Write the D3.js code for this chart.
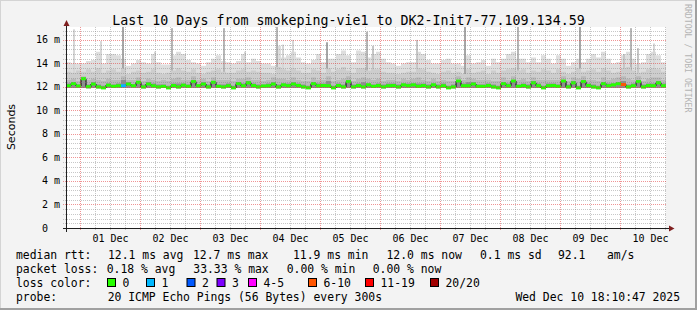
<!doctype html>
<meta charset="utf-8">
<body style="margin:0">
<script src="https://d3js.org/d3.v7.min.js"></script>
<script>

// time window of the graph (UTC) and bucket size of the data below
var startTime = Date.UTC(2025, 10, 30, 18, 10, 47),
    endTime = Date.UTC(2025, 11, 10, 18, 10, 47),
    stepHours = 2;

// median rtt per 2h bucket (ms)
var medianMs = [12.10,12.28,12.08,12.70,12.02,12.25,12.00,11.92,12.15,12.05,
  12.10,12.10,12.25,12.10,12.40,12.00,12.25,12.10,12.00,12.05,
  11.92,12.12,12.00,12.15,12.05,12.45,12.10,12.25,12.00,12.40,
  12.05,12.00,12.10,11.92,12.28,12.10,12.35,12.12,12.00,12.08,
  12.10,12.25,12.00,12.18,12.10,12.25,12.12,12.00,11.92,12.28,
  12.10,12.12,12.10,11.92,12.12,12.00,12.45,12.00,12.12,12.00,
  12.18,12.05,12.12,12.00,12.10,12.12,12.00,12.18,12.10,12.18,
  12.05,12.12,12.00,12.18,12.00,12.10,11.92,12.00,12.50,12.10,
  12.10,12.25,12.05,12.05,12.12,12.00,11.92,12.28,12.10,12.50,
  12.05,12.12,12.00,12.35,12.10,11.92,12.10,12.12,12.05,12.50,
  12.00,12.35,11.92,12.45,12.12,12.00,11.92,12.28,12.10,12.18,
  12.28,12.20,12.00,12.10,12.45,12.00,12.12,12.10,12.35,12.10];

// smoke: lowest ping, 60/75/90 percentile and highest ping (ms)
var minMs = [11.90,11.92,11.90,11.92,11.88,11.92,11.88,11.85,11.92,11.90,
  11.92,11.90,11.92,11.90,11.92,11.88,11.92,11.90,11.88,11.90,
  11.85,11.92,11.88,11.92,11.90,11.92,11.90,11.92,11.88,11.92,
  11.90,11.88,11.92,11.85,11.92,11.90,11.92,11.92,11.88,11.90,
  11.92,11.92,11.88,11.92,11.90,11.92,11.92,11.88,11.85,11.92,
  11.90,11.92,11.92,11.85,11.92,11.88,11.92,11.88,11.92,11.88,
  11.92,11.90,11.92,11.88,11.90,11.92,11.88,11.92,11.90,11.92,
  11.90,11.92,11.88,11.92,11.88,11.90,11.85,11.88,11.92,11.90,
  11.92,11.92,11.90,11.90,11.92,11.88,11.85,11.92,11.90,11.92,
  11.90,11.92,11.88,11.92,11.90,11.85,11.90,11.92,11.90,11.92,
  11.88,11.92,11.85,11.92,11.92,11.88,11.85,11.92,11.90,11.92,
  11.92,11.90,11.88,11.90,11.92,11.88,11.92,11.90,11.92,11.90];

var p60Ms = [12.3,12.4,12.2,12.8,12.2,12.4,12.2,12.1,12.3,12.2,
  12.3,12.6,12.4,12.2,12.5,12.2,12.4,12.3,12.2,12.2,
  12.1,12.3,12.3,12.3,12.2,12.6,12.2,12.4,12.2,12.5,
  12.2,12.2,12.3,12.1,12.4,12.3,12.5,12.3,12.2,12.2,
  12.3,12.4,12.2,12.3,12.3,12.4,12.3,12.2,12.1,12.4,
  12.3,12.3,12.5,12.1,12.3,12.2,12.6,12.2,12.3,12.4,
  12.3,12.2,12.3,12.2,12.3,12.3,12.2,12.3,12.3,12.3,
  12.3,12.3,12.2,12.3,12.2,12.3,12.1,12.2,12.6,12.3,
  12.4,12.4,12.2,12.2,12.3,12.2,12.1,12.4,12.3,12.6,
  12.2,12.3,12.2,12.5,12.3,12.1,12.3,12.3,12.2,12.6,
  12.2,12.5,12.1,12.6,12.3,12.2,12.1,12.4,12.3,12.3,
  12.4,12.5,12.2,12.3,12.6,12.2,12.3,12.3,12.5,12.3];

var p75Ms = [12.6,12.7,12.5,12.9,12.6,12.7,12.6,12.5,12.7,12.6,
  12.6,12.9,12.6,12.6,12.8,12.5,12.7,12.6,12.5,12.6,
  12.5,12.7,12.8,12.6,12.6,12.9,12.6,12.7,12.5,12.8,
  12.6,12.6,12.6,12.5,12.7,12.7,12.8,12.6,12.6,12.5,
  12.6,12.8,12.7,12.7,12.6,12.8,12.6,12.5,12.5,12.8,
  12.6,12.6,12.9,12.5,12.6,12.7,12.9,12.5,12.7,12.8,
  12.7,12.6,12.7,12.5,12.6,12.6,12.5,12.7,12.6,12.7,
  12.8,12.6,12.5,12.7,12.5,12.6,12.5,12.5,12.9,12.6,
  12.8,12.7,12.6,12.6,12.6,12.5,12.5,12.8,12.6,12.9,
  12.6,12.7,12.5,12.8,12.6,12.6,12.6,12.6,12.6,12.9,
  12.5,12.8,12.7,12.9,12.6,12.6,12.5,12.8,12.6,12.7,
  12.8,12.9,12.7,12.6,12.9,12.5,12.7,12.8,12.8,12.6];

var p90Ms = [13.3,13.2,13.4,13.3,13.5,13.3,13.6,13.2,13.4,13.5,
  13.3,13.6,13.1,13.3,13.4,13.2,13.3,13.5,13.2,13.1,
  13.2,13.4,13.6,13.4,13.3,13.5,13.2,13.1,13.3,13.4,
  13.5,13.3,13.2,13.2,13.4,13.5,13.3,13.4,13.3,13.2,
  13.2,13.1,13.7,13.5,13.4,13.6,13.4,13.2,13.2,13.5,
  13.4,13.2,13.6,13.3,13.5,13.7,13.4,13.2,13.6,13.6,
  13.4,13.5,13.5,13.3,13.2,13.2,13.1,13.2,13.3,13.3,
  13.6,13.5,13.3,13.2,13.1,13.3,13.4,13.2,13.3,13.1,
  13.5,13.2,13.3,13.4,13.1,13.4,13.2,13.4,13.5,13.6,
  13.4,13.5,13.2,13.4,13.3,13.5,13.4,13.2,13.5,13.3,
  13.1,13.3,13.6,13.3,13.4,13.5,13.3,13.6,13.4,13.2,
  13.3,13.6,13.7,13.4,13.2,13.3,13.5,13.6,13.5,13.3];

var maxMs = [14.1,14.0,14.0,14.0,14.2,14.3,15.0,14.0,14.8,14.8,
  14.7,14.4,13.8,14.0,14.3,14.1,14.0,14.8,14.1,13.9,
  13.9,14.7,15.0,14.8,14.3,14.1,14.0,13.8,14.1,14.4,
  14.7,14.2,14.1,14.0,14.2,14.8,14.1,14.4,14.2,14.0,
  14.0,13.8,15.5,14.5,14.7,15.0,14.5,14.1,14.0,14.3,
  14.8,14.1,14.4,14.4,14.8,15.1,14.7,14.1,15.1,15.0,
  14.5,14.8,15.0,14.4,14.1,14.0,13.8,14.0,14.1,14.1,
  15.0,14.8,14.3,14.0,14.0,14.3,14.4,14.0,14.0,13.8,
  14.7,14.0,14.1,14.3,13.8,14.4,14.1,14.4,14.8,15.0,
  14.4,14.4,14.1,14.5,14.1,14.7,14.4,14.0,14.7,14.4,
  13.8,14.1,14.4,14.1,14.4,14.8,14.5,15.0,14.4,14.0,
  14.1,14.7,15.0,14.4,14.0,14.1,14.8,15.0,14.7,14.1];

// lost pings (of 20) per bucket
var lossPings = [0,0,0,0,0,0,0,0,0,0, 0,1,0,0,0,0,0,0,0,0,
  0,0,0,0,0,0,0,0,0,0, 0,0,0,0,0,0,0,0,0,0,
  0,0,0,0,0,0,0,0,0,0, 0,0,0,0,0,0,0,0,0,0,
  0,0,0,0,0,0,0,0,0,0, 0,0,0,0,0,0,0,0,0,0,
  0,0,0,0,0,0,0,0,0,0, 0,0,0,0,0,0,0,0,0,0,
  0,0,0,0,0,0,0,0,0,0, 0,7,0,0,0,0,0,0,0,0];

// single tall outliers: hours after start, top (ms), how many pings reached it
var spikeHours = [3, 13.6, 22.4, 35.2, 42.2, 63, 71.2, 84, 86.4, 90.4, 104.2, 120, 122.4,
  140.4, 159.2, 180.4, 205.4, 222.8, 225.6, 228.4, 234.8];
var spikeTopMs = [16.9, 15.9, 17.1, 15.0, 17.0, 17.0, 15.0, 17.1, 15.6, 16.0, 15.8, 16.7, 15.5,
  16.0, 17.1, 17.1, 17.1, 14.8, 17.0, 15.3, 15.7];
var spikePings = [1, 1, 4, 1, 3, 3, 1, 3, 1, 1, 4, 3, 2,
  2, 4, 3, 4, 2, 3, 2, 1];

var yTicks = [0, 2, 4, 6, 8, 10, 12, 14, 16];

var lossLabels = ["0", "1", "2", "3", "4-5", "6-10", "11-19", "20/20"];
var lossMax = [0, 1, 2, 3, 5, 10, 19, 20];
var lossColors = ["#26ff00", "#00b8ff", "#0059ff", "#7e00ff", "#ff00ff", "#ff5500", "#ff0000", "#a10000"];

var titleText = "Last 10 Days from smokeping-vie1 to DK2-Init7-77.109.134.59";
var rttLegend = ["median rtt:", "12.1 ms avg", "12.7 ms max", "11.9 ms min", "12.0 ms now", "0.1 ms sd", "92.1", "am/s"];
var lossLegend = ["packet loss:", "0.18 % avg", "33.33 % max", "0.00 % min", "0.00 % now"];
var probeLegend = ["probe:", "20 ICMP Echo Pings (56 Bytes) every 300s"];
var stampText = "Wed Dec 10 18:10:47 2025";

// ---- drawing ----
var W = 697, H = 310;
var plot = {left: 66, right: 666, top: 27, bottom: 228};
var HOUR = 3600 * 1000;

var svg = d3.select("body").append("svg")
    .attr("width", W)
    .attr("height", H)
    .style("font-family", "'DejaVu Sans Mono', monospace");

// background with rrdtool style shaded frame
svg.append("rect").attr("width", W).attr("height", H).attr("fill", "#f3f3f3");
svg.append("path").attr("d", "M0,0H" + W + "V1H1V" + H + "H0Z").attr("fill", "#d4d4d4");
svg.append("path").attr("d", "M" + W + ",0V" + H + "H0V" + (H - 2) + "H" + (W - 2) + "V0Z").attr("fill", "#a0a0a0");

var x = d3.scaleUtc()
    .domain([new Date(startTime), new Date(endTime)])
    .range([plot.left, plot.right]);
var y = d3.scaleLinear()
    .domain([0, 17.1])
    .range([plot.bottom, plot.top]);

svg.append("rect")
    .attr("x", plot.left).attr("y", plot.top)
    .attr("width", plot.right - plot.left).attr("height", plot.bottom - plot.top)
    .attr("fill", "#ffffff");

svg.append("clipPath").attr("id", "clip")
  .append("rect")
    .attr("x", plot.left).attr("y", plot.top)
    .attr("width", plot.right - plot.left).attr("height", plot.bottom - plot.top);

var g = svg.append("g").attr("clip-path", "url(#clip)");

// bucket table
var buckets = medianMs.map(function(m, i) {
  return {t: new Date(startTime + i * stepHours * HOUR), med: m, lo: minMs[i],
          p60: p60Ms[i], p75: p75Ms[i], p90: p90Ms[i], max: maxMs[i], loss: lossPings[i]};
});
var last = buckets[buckets.length - 1];
var stepped = buckets.concat([Object.assign({}, last, {t: new Date(endTime)})]);

function smoke(key, color) {
  var area = d3.area()
      .curve(d3.curveStepAfter)
      .x(function(d) { return x(d.t); })
      .y0(function(d) { return y(d.lo); })
      .y1(function(d) { return y(d[key]); });
  g.append("path").datum(stepped).attr("d", area).attr("fill", color);
}

// smoke shades, outer pings lightest
var shade = ["#dedede", "#cdcdcd", "#bababa", "#8e8e8e"];
var spikeShade = ["#dedede", "#d6d6d6", "#c6c6c6", "#b6b6b6", "#a6a6a6"];

smoke("max", shade[0]);

// outliers
g.selectAll(".spike")
    .data(spikeHours)
  .enter().append("rect")
    .attr("x", function(h) { return Math.floor(x(new Date(startTime + h * HOUR))); })
    .attr("width", 2)
    .attr("y", function(h, i) { return y(spikeTopMs[i]); })
    .attr("height", function(h, i) { return y(12.6) - y(spikeTopMs[i]); })
    .attr("fill", function(h, i) { return spikeShade[spikePings[i]]; });

smoke("p90", shade[1]);
smoke("p75", shade[2]);
smoke("p60", shade[3]);

// median: black step line with a loss coloured band over the flat parts
g.append("path")
    .datum(stepped)
    .attr("d", d3.line().curve(d3.curveStepAfter)
      .x(function(d) { return x(d.t); })
      .y(function(d) { return y(d.med); }))
    .attr("fill", "none")
    .attr("stroke", "#000")
    .attr("stroke-width", 1);

function lossColor(n) {
  for (var i = 0; i < lossMax.length; i++) if (n <= lossMax[i]) return lossColors[i];
  return lossColors[lossColors.length - 1];
}

g.selectAll(".med")
    .data(buckets)
  .enter().append("rect")
    .attr("x", function(d) { return x(d.t); })
    .attr("width", function(d) { return x(new Date(+d.t + stepHours * HOUR)) - x(d.t); })
    .attr("y", function(d) { return y(d.med) - 1.5; })
    .attr("height", 3)
    .attr("fill", function(d) { return lossColor(d.loss); });

// grid
var grid = svg.append("g").attr("stroke-dasharray", "1,1").attr("shape-rendering", "crispEdges");
var minorY = d3.range(0.4, 17.0, 0.4).filter(function(v) { return Math.abs(v / 2 - Math.round(v / 2)) > 0.01; });
grid.selectAll(".gy").data(minorY).enter().append("line")
    .attr("x1", plot.left - 3).attr("x2", plot.right)
    .attr("y1", function(v) { return Math.round(y(v)) + 0.5; })
    .attr("y2", function(v) { return Math.round(y(v)) + 0.5; })
    .attr("stroke", "rgba(130,130,130,0.45)");
var minorX = x.ticks(d3.utcHour.every(6)).filter(function(d) { return d.getUTCHours() !== 0; });
grid.selectAll(".gx").data(minorX).enter().append("line")
    .attr("y1", plot.top).attr("y2", plot.bottom + 2)
    .attr("x1", function(d) { return Math.floor(x(d)) + 0.5; })
    .attr("x2", function(d) { return Math.floor(x(d)) + 0.5; })
    .attr("stroke", "rgba(130,130,130,0.45)");
grid.selectAll(".my").data(yTicks.slice(1)).enter().append("line")
    .attr("x1", plot.left - 3).attr("x2", plot.right)
    .attr("y1", function(v) { return Math.round(y(v)) + 0.5; })
    .attr("y2", function(v) { return Math.round(y(v)) + 0.5; })
    .attr("stroke", "rgba(225,60,60,0.55)");
var days = x.ticks(d3.utcDay.every(1));
grid.selectAll(".mx").data(days).enter().append("line")
    .attr("y1", plot.top).attr("y2", plot.bottom + 3)
    .attr("x1", function(d) { return Math.floor(x(d)) + 0.5; })
    .attr("x2", function(d) { return Math.floor(x(d)) + 0.5; })
    .attr("stroke", "rgba(225,60,60,0.55)");

// axes with arrows
svg.append("line").attr("x1", plot.left - 3).attr("x2", 670).attr("y1", 228.5).attr("y2", 228.5)
    .attr("stroke", "#1f1f1f");
svg.append("line").attr("x1", 66.5).attr("x2", 66.5).attr("y1", 232).attr("y2", 25)
    .attr("stroke", "#1f1f1f");
svg.append("path").attr("d", "M669,225.5L674.5,228.5L669,231.5Z").attr("fill", "#7f1f1f");
svg.append("path").attr("d", "M63.5,26L66.5,20L69.5,26Z").attr("fill", "#7f1f1f");

// axis labels
svg.selectAll(".ylab").data(yTicks).enter().append("text")
    .attr("x", 60)
    .attr("y", function(v) { return y(v) + 3.5; })
    .attr("text-anchor", "end")
    .attr("xml:space", "preserve")
    .style("white-space", "pre")
    .style("font-size", "10px")
    .text(function(v) { return v === 0 ? "0  " : v + " m"; });

var fmt = d3.utcFormat("%d %b");
svg.selectAll(".xlab").data(days).enter().append("text")
    .attr("x", function(d) { return x(new Date(+d + 12 * HOUR)); })
    .attr("y", 241.5)
    .attr("text-anchor", "middle")
    .style("font-size", "10px")
    .text(fmt);

svg.append("text")
    .attr("transform", "translate(14.5,127) rotate(-90)")
    .attr("text-anchor", "middle")
    .style("font-family", "'DejaVu Sans', sans-serif")
    .style("font-size", "11px")
    .text("Seconds");

svg.append("text")
    .attr("x", 348.5).attr("y", 24.5)
    .attr("text-anchor", "middle")
    .style("font-size", "13.3px")
    .text(titleText);

svg.append("text")
    .attr("transform", "translate(685,4) rotate(90)")
    .style("font-size", "8.2px")
    .attr("fill", "#b4b4b4")
    .text("RRDTOOL / TOBI OETIKER");

// legend
var lg = svg.append("g").style("font-size", "11.4px");
var rttX = [16, 108, 193, 293, 386.5, 480, 558, 607];
rttLegend.forEach(function(s, i) {
  lg.append("text").attr("x", rttX[i]).attr("y", 258.5).text(s);
});
var lossX = [16, 106.7, 193.3, 286.7, 372.7];
lossLegend.forEach(function(s, i) {
  lg.append("text").attr("x", lossX[i]).attr("y", 272.5).text(s);
});
lg.append("text").attr("x", 16).attr("y", 286.5).text("loss color:");
var boxX = [107.5, 146.5, 187, 217, 248.5, 308.5, 365.5, 430.5];
lossLabels.forEach(function(s, i) {
  lg.append("rect").attr("x", boxX[i]).attr("y", 278.5).attr("width", 8).attr("height", 8)
      .attr("fill", lossColors[i]).attr("stroke", "#000");
  lg.append("text").attr("x", boxX[i] + 15).attr("y", 286.5).text(s);
});
lg.append("text").attr("x", 16).attr("y", 300.5).text(probeLegend[0]);
lg.append("text").attr("x", 107.7).attr("y", 300.5).text(probeLegend[1]);
lg.append("text").attr("x", 680).attr("y", 300.5).attr("text-anchor", "end").text(stampText);

</script>
</body>
